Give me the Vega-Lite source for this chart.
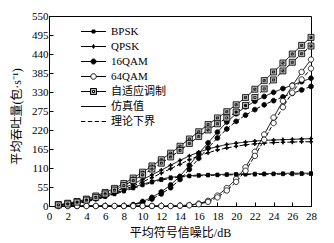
{
  "$schema": "https://vega.github.io/schema/vega-lite/v6.json",
  "width": 262,
  "height": 190,
  "autosize": "none",
  "padding": {"left": 49, "top": 16, "right": 23, "bottom": 37},
  "config": {
    "view": {"stroke": "black", "strokeWidth": 1},
    "font": "Liberation Serif, Noto Sans CJK SC",
    "axis": {
      "grid": false,
      "domainColor": "black",
      "tickColor": "black",
      "labelColor": "black",
      "titleColor": "black",
      "labelFont": "Liberation Serif, Noto Sans CJK SC",
      "titleFont": "Liberation Serif, Noto Sans CJK SC",
      "labelFontSize": 11,
      "titleFontSize": 12,
      "titleFontWeight": "normal",
      "tickSize": -4,
      "labelFlush": false,
      "labelOverlap": false
    }
  },
  "data": {
    "values": [
      {"x": 1, "b": 3, "bt": 2, "q": 2, "qt": 1.5, "s": 0, "st": 0, "m": 0, "mt": 0, "a": 4, "at": 3},
      {"x": 2, "b": 6, "bt": 5, "q": 4, "qt": 3.5, "s": 0, "st": 0, "m": 0, "mt": 0, "a": 8, "at": 6},
      {"x": 3, "b": 10, "bt": 9, "q": 8, "qt": 7, "s": 0, "st": 0, "m": 0, "mt": 0, "a": 13, "at": 11},
      {"x": 4, "b": 15, "bt": 13, "q": 14, "qt": 12, "s": 0, "st": 0, "m": 0, "mt": 0, "a": 20, "at": 17},
      {"x": 5, "b": 21, "bt": 19, "q": 22, "qt": 19, "s": 0, "st": 0, "m": 0, "mt": 0, "a": 29, "at": 25},
      {"x": 6, "b": 28, "bt": 26, "q": 31, "qt": 27, "s": 0, "st": 0, "m": 0, "mt": 0, "a": 39, "at": 35},
      {"x": 7, "b": 36, "bt": 34, "q": 41, "qt": 37, "s": 0, "st": 0, "m": 0, "mt": 0, "a": 51, "at": 46},
      {"x": 8, "b": 45, "bt": 42, "q": 52, "qt": 47, "s": 0, "st": 0, "m": 0, "mt": 0, "a": 65, "at": 59},
      {"x": 9, "b": 54, "bt": 51, "q": 64, "qt": 58, "s": 4, "st": 3, "m": 0, "mt": 0, "a": 81, "at": 74},
      {"x": 10, "b": 63, "bt": 60, "q": 77, "qt": 70, "s": 13, "st": 10, "m": 0, "mt": 0, "a": 98, "at": 90},
      {"x": 11, "b": 71, "bt": 68, "q": 90, "qt": 82, "s": 25, "st": 20, "m": 0, "mt": 0, "a": 116, "at": 107},
      {"x": 12, "b": 78, "bt": 75, "q": 104, "qt": 95, "s": 41, "st": 35, "m": 0, "mt": 0, "a": 134, "at": 124},
      {"x": 13, "b": 83, "bt": 80, "q": 118, "qt": 108, "s": 61, "st": 53, "m": 0, "mt": 0, "a": 153, "at": 142},
      {"x": 14, "b": 86, "bt": 84, "q": 132, "qt": 121, "s": 86, "st": 77, "m": 1, "mt": 1, "a": 173, "at": 161},
      {"x": 15, "b": 88, "bt": 86, "q": 145, "qt": 134, "s": 118, "st": 106, "m": 3, "mt": 2, "a": 194, "at": 181},
      {"x": 16, "b": 89.5, "bt": 87.5, "q": 156, "qt": 145, "s": 152, "st": 138, "m": 7, "mt": 5, "a": 215, "at": 201},
      {"x": 17, "b": 90.5, "bt": 88.5, "q": 165, "qt": 154, "s": 183, "st": 168, "m": 15, "mt": 12, "a": 236, "at": 220},
      {"x": 18, "b": 91, "bt": 89, "q": 172, "qt": 162, "s": 214, "st": 197, "m": 30, "mt": 25, "a": 255, "at": 238},
      {"x": 19, "b": 92, "bt": 90, "q": 178, "qt": 168, "s": 243, "st": 223, "m": 52, "mt": 45, "a": 273, "at": 255},
      {"x": 20, "b": 92.5, "bt": 90.5, "q": 182, "qt": 173, "s": 267, "st": 245, "m": 78, "mt": 70, "a": 293, "at": 272},
      {"x": 21, "b": 93, "bt": 91, "q": 185, "qt": 177, "s": 287, "st": 263, "m": 112, "mt": 102, "a": 314, "at": 291},
      {"x": 22, "b": 93.5, "bt": 91, "q": 188, "qt": 180, "s": 303, "st": 279, "m": 157, "mt": 145, "a": 338, "at": 314},
      {"x": 23, "b": 94, "bt": 91.5, "q": 190, "qt": 182, "s": 317, "st": 293, "m": 207, "mt": 192, "a": 363, "at": 339},
      {"x": 24, "b": 94, "bt": 92, "q": 191, "qt": 183.5, "s": 329, "st": 305, "m": 256, "mt": 240, "a": 388, "at": 365},
      {"x": 25, "b": 94.5, "bt": 92, "q": 192, "qt": 184.5, "s": 340, "st": 316, "m": 304, "mt": 286, "a": 414, "at": 391},
      {"x": 26, "b": 95, "bt": 92, "q": 193, "qt": 185, "s": 350, "st": 326, "m": 348, "mt": 328, "a": 440, "at": 416},
      {"x": 27, "b": 95, "bt": 92.5, "q": 194, "qt": 186, "s": 360, "st": 336, "m": 388, "mt": 366, "a": 465, "at": 441},
      {"x": 28, "b": 95, "bt": 92.5, "q": 195, "qt": 186, "s": 370, "st": 346, "m": 424, "mt": 398, "a": 488, "at": 463}
    ]
  },
  "transform": [{"fold": ["b", "bt", "q", "qt", "s", "st", "m", "mt", "a", "at"], "as": ["key", "v"]}],
  "encoding": {
    "x": {
      "field": "x", "type": "quantitative",
      "scale": {"domain": [0, 28], "nice": false},
      "axis": {"values": [0, 2, 4, 6, 8, 10, 12, 14, 16, 18, 20, 22, 24, 26, 28], "title": "平均符号信噪比/dB", "labelPadding": 8, "titleY": 21}
    },
    "y": {
      "field": "v", "type": "quantitative",
      "scale": {"domain": [0, 550], "nice": false},
      "axis": {"values": [0, 55, 110, 165, 220, 275, 330, 385, 440, 495, 550], "title": "平均吞吐量(包·s⁻¹)", "labelPadding": 5, "titleX": -26, "titleY": 100}
    }
  },
  "layer": [
    {
      "mark": {"type": "line", "color": "black", "strokeWidth": 1},
      "encoding": {
        "strokeDash": {
          "field": "key", "type": "nominal",
          "scale": {"domain": ["b", "bt", "q", "qt", "s", "st", "m", "mt", "a", "at"],
                    "range": [[1, 0], [4, 2], [1, 0], [4, 2], [1, 0], [4, 2], [1, 0], [4, 2], [1, 0], [4, 2]]},
          "legend": null
        }
      }
    },
    {
      "mark": {"type": "point", "filled": true, "stroke": "black", "strokeWidth": 0.8, "opacity": 1, "size": 36},
      "encoding": {
        "shape": {
          "field": "key", "type": "nominal",
          "scale": {"domain": ["b", "bt", "q", "qt", "s", "st", "m", "mt", "a", "at"],
                    "range": [
                      "M-0.5,-0.5H0.5V0.5H-0.5Z", "M-0.5,-0.5H0.5V0.5H-0.5Z",
                      "M0,-0.7L0.2,-0.2L0.7,0L0.2,0.2L0,0.7L-0.2,0.2L-0.7,0L-0.2,-0.2Z", "M0,-0.7L0.2,-0.2L0.7,0L0.2,0.2L0,0.7L-0.2,0.2L-0.7,0L-0.2,-0.2Z",
                      "M-0.8,0A0.8,0.8 0 1,0 0.8,0A0.8,0.8 0 1,0 -0.8,0Z", "M-0.8,0A0.8,0.8 0 1,0 0.8,0A0.8,0.8 0 1,0 -0.8,0Z",
                      "M-0.9,0A0.9,0.9 0 1,0 0.9,0A0.9,0.9 0 1,0 -0.9,0Z", "M-0.9,0A0.9,0.9 0 1,0 0.9,0A0.9,0.9 0 1,0 -0.9,0Z",
                      "M-1,-1H1V1H-1ZM-0.35,-0.35V0.35H0.35V-0.35Z", "M-1,-1H1V1H-1ZM-0.35,-0.35V0.35H0.35V-0.35Z"
                    ]},
          "legend": null
        },
        "fill": {
          "field": "key", "type": "nominal",
          "scale": {"domain": ["b", "bt", "q", "qt", "s", "st", "m", "mt", "a", "at"],
                    "range": ["black", "black", "black", "black", "black", "black", "white", "white", "#b8b8b8", "#b8b8b8"]},
          "legend": null
        }
      }
    },
    {
      "transform": [{"filter": "false"}],
      "mark": {"type": "point", "filled": true, "strokeWidth": 1, "opacity": 1},
      "encoding": {
        "shape": {
          "field": "lg", "type": "nominal",
          "scale": {"domain": ["BPSK", "QPSK", "16QAM", "64QAM", "自适应调制", "仿真值", "理论下界"],
                    "range": [
                      "M-2.5,0H-0.3M0.3,0H2.5M-0.3,-0.3H0.3V0.3H-0.3Z",
                      "M-2.5,0H-0.4M0.4,0H2.5M0,-0.4L0.12,-0.12L0.4,0L0.12,0.12L0,0.4L-0.12,0.12L-0.4,0L-0.12,-0.12Z",
                      "M-2.5,0H-0.5M0.5,0H2.5M-0.5,0A0.5,0.5 0 1,0 0.5,0A0.5,0.5 0 1,0 -0.5,0Z",
                      "M-2.5,0H-0.55M0.55,0H2.5M-0.55,0A0.55,0.55 0 1,0 0.55,0A0.55,0.55 0 1,0 -0.55,0Z",
                      "M-2.5,0H-0.6M0.6,0H2.5M-0.6,-0.6H0.6V0.6H-0.6ZM-0.2,-0.2V0.2H0.2V-0.2Z",
                      "M-2.5,0H2.5",
                      "M-2.5,0H-1.62M-1.13,0H-0.25M0.24,0H1.12M1.62,0H2.5"
                    ]},
          "legend": {
            "orient": "none", "legendX": 39, "legendY": 10, "title": null,
            "symbolSize": 100, "labelFontSize": 11, "labelFont": "Liberation Serif, Noto Sans CJK SC",
            "labelColor": "black", "labelOffset": 12, "rowPadding": 3,
            "symbolStrokeWidth": 1
          }
        },
        "fill": {
          "field": "lg", "type": "nominal",
          "scale": {"domain": ["BPSK", "QPSK", "16QAM", "64QAM", "自适应调制", "仿真值", "理论下界"],
                    "range": ["black", "black", "black", "white", "#b8b8b8", "transparent", "transparent"]}
        },
        "stroke": {
          "field": "lg", "type": "nominal",
          "scale": {"domain": ["BPSK", "QPSK", "16QAM", "64QAM", "自适应调制", "仿真值", "理论下界"],
                    "range": ["black", "black", "black", "black", "black", "black", "black"]}
        }
      }
    }
  ],
  "resolve": {"scale": {"shape": "independent", "fill": "independent", "stroke": "independent"}}
}
